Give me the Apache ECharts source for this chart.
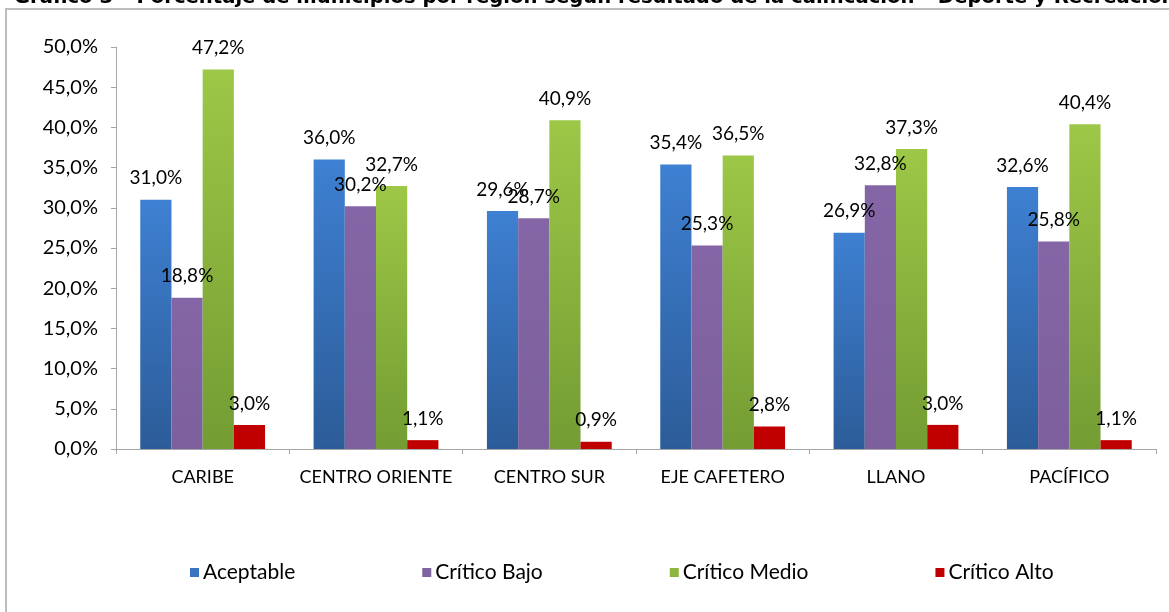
<!DOCTYPE html>
<html>
<head>
<meta charset="utf-8">
<script src="https://cdn.jsdelivr.net/npm/echarts@6/dist/echarts.min.js"></script>
<style>
html,body{margin:0;padding:0;background:#fff;}
#chart{width:1169px;height:612px;}
</style>
</head>
<body>
<div id="chart"></div>
<script>
const titleText = 'Gráfico 3 – Porcentaje de municipios por región según resultado de la calificación – Deporte y Recreación';
const categories = ['CARIBE', 'CENTRO ORIENTE', 'CENTRO SUR', 'EJE CAFETERO', 'LLANO', 'PACÍFICO'];
const seriesNames = ['Aceptable', 'Crítico Bajo', 'Crítico Medio', 'Crítico Alto'];
const aceptable = [31.0, 36.0, 29.6, 35.4, 26.9, 32.6];
const criticoBajo = [18.8, 30.2, 28.7, 25.3, 32.8, 25.8];
const criticoMedio = [47.2, 32.7, 40.9, 36.5, 37.3, 40.4];
const criticoAlto = [3.0, 1.1, 0.9, 2.8, 3.0, 1.1];

const FONT = 'Lato, "DejaVu Sans", sans-serif';
const fmt = v => v.toFixed(1).replace('.', ',') + '%';

function grad(top, bottom) {
  return new echarts.graphic.LinearGradient(0, 0, 0, 1, [
    {offset: 0, color: top}, {offset: 1, color: bottom}
  ]);
}
const colors = [
  grad('#3e80d2', '#2c5c98'),
  grad('#8466a6', '#7c5f9c'),
  grad('#9dc746', '#739c33'),
  '#c00000'
];
const legendColors = ['#3a74c0', '#8064a2', '#8cb63e', '#c00000'];
const dataSets = [aceptable, criticoBajo, criticoMedio, criticoAlto];

const chart = echarts.init(document.getElementById('chart'));
chart.setOption({
  animation: false,
  backgroundColor: '#fff',
  color: legendColors,
  title: {
    text: titleText,
    left: 14,
    top: -13,
    padding: 0,
    textStyle: {fontFamily: '"DejaVu Sans", sans-serif', fontWeight: 'bold', fontSize: 19.6, color: '#000', lineHeight: 22}
  },
  graphic: [{
    type: 'rect',
    shape: {x: 6, y: 9, width: 1300, height: 800},
    style: {fill: 'none', stroke: '#bdbdbd', lineWidth: 2},
    silent: true
  }],
  legend: {
    data: seriesNames.map((n, i) => ({name: n, itemStyle: {color: legendColors[i]}})),
    left: 185,
    top: 557,
    itemWidth: 9,
    itemHeight: 9,
    itemGap: 127,
    icon: 'rect',
    textStyle: {fontFamily: FONT, fontSize: 21, color: '#000', padding: [0, 0, 0, -1]}
  },
  grid: {left: 116, right: 13, top: 47, bottom: 163, containLabel: false},
  xAxis: {
    type: 'category',
    data: categories,
    axisLine: {lineStyle: {color: '#a6a6a6', width: 1}},
    axisTick: {show: true, length: 5, lineStyle: {color: '#a6a6a6'}},
    axisLabel: {interval: 0, fontFamily: FONT, fontSize: 18, color: '#000', margin: 19}
  },
  yAxis: {
    type: 'value',
    min: 0,
    max: 50,
    interval: 5,
    axisLine: {show: true, lineStyle: {color: '#a6a6a6', width: 1}},
    axisTick: {show: true, length: 5, lineStyle: {color: '#a6a6a6'}},
    splitLine: {show: false},
    axisLabel: {fontFamily: FONT, fontSize: 20, color: '#000', margin: 18, formatter: v => fmt(v)}
  },
  series: dataSets.map((d, i) => ({
    name: seriesNames[i],
    type: 'bar',
    data: d,
    barGap: '0%',
    barCategoryGap: '28%',
    itemStyle: {color: colors[i]},
    label: {
      show: true,
      position: 'top',
      distance: 12,
      formatter: p => fmt(p.value),
      fontFamily: FONT,
      fontSize: 19,
      color: '#000'
    }
  }))
});
</script>
</body>
</html>
